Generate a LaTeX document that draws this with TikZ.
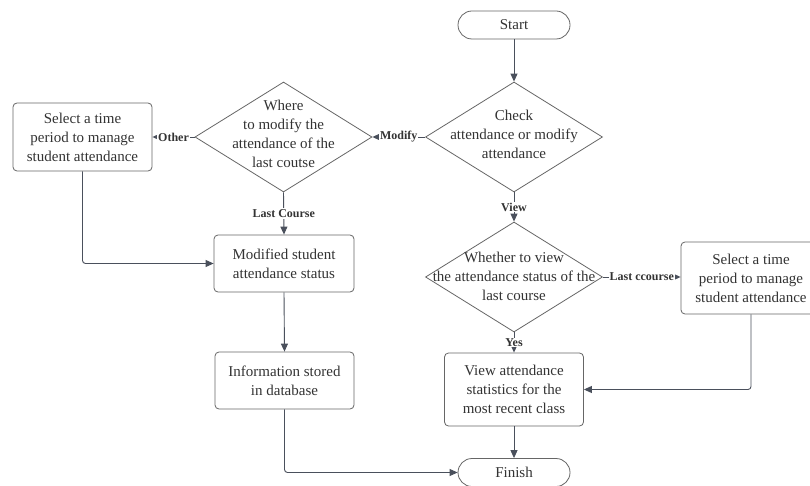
\documentclass[tikz,border=0pt]{standalone}
\usepackage{fontspec}
\setmainfont{Liberation Serif}
\usetikzlibrary{shapes.geometric,arrows.meta}
\definecolor{ink}{HTML}{333333}
\definecolor{edgecol}{HTML}{4A505C}
\definecolor{framecol}{HTML}{666666}
\tikzset{
  boxtext/.style={text=ink, font=\fontsize{15}{19}\selectfont, align=center},
  proc/.style={boxtext, draw=framecol, line width=0.8pt, rectangle, rounded corners=4pt,
               minimum width=139pt, inner sep=0pt},
  term/.style={boxtext, draw=framecol, line width=0.8pt, rectangle, rounded corners=14pt,
               minimum width=112pt, minimum height=28pt, inner sep=0pt},
  decision/.style={draw=framecol, line width=0.8pt, diamond, minimum width=177pt,
                   minimum height=110pt, inner sep=0pt},
  dtext/.style={boxtext, inner sep=0pt},
  arr/.style={draw=edgecol, line width=0.9pt, -{Triangle[length=8pt,width=7pt]}},
  elbow/.style={arr, rounded corners=3pt},
  lbl/.style={font=\bfseries\fontsize{12}{14}\selectfont, text=ink, fill=white, inner sep=1pt},
}
\begin{document}
\begin{tikzpicture}[x=1pt,y=-1pt]
\useasboundingbox (0,0) rectangle (810,486);
\fill[white] (0,0) rectangle (810,486);

% terminals
\node[term] (start) at (514,25) {Start};
\node[term] (finish) at (514,472.5) {Finish};

% decisions
\node[decision] (check) at (514,137) {};
\node[dtext] (checkT) at (514,134) {Check\\attendance or modify\\attendance};

\node[decision] (where) at (283.5,137) {};
\node[dtext] (whereT) at (283.5,133.5) {Where\\to modify the\\attendance of the\\last coutse};

\node[decision] (whether) at (514,277) {};
\node[dtext] (whetherT) at (514,276) {Whether to view\\the attendance status of the\\last course};

% process boxes
\node[proc, minimum height=68pt] (lsel) at (82.5,137) {Select a time\\period to manage\\student attendance};
\node[proc, minimum height=57pt, minimum width=140pt] (mod) at (284,263.5) {Modified student\\attendance status};
\node[proc, minimum height=57pt] (info) at (284.5,380.5) {Information stored\\in database};
\node[proc, minimum height=73pt] (view) at (514,389.5) {View attendance\\statistics for the\\most recent class};
\node[proc, minimum height=72pt, minimum width=140pt] (rsel) at (751,278) {Select a time\\period to manage\\student attendance};

% connectors
\draw[arr] (start) -- (check);
\draw[arr] (check.west) -- node[lbl] (lmodify) {Modify} (where.east);
\draw[arr] (where.west) -- node[lbl] (lother) {Other} (lsel.east);
\draw[arr] (where.south) -- node[lbl] (llast) {Last Course} (mod.north);
\draw[elbow] (lsel.south) |- (mod.west);
\draw[arr] (mod.south) -- (info.north);
\draw[elbow] (info.south) |- (finish.west);
\draw[arr] (check.south) -- node[lbl] (lview) {View} (whether.north);
\draw[arr] (whether.east) -- node[lbl] (lcc) {Last ccourse} (rsel.west |- whether.east);
\draw[arr] (whether.south) -- node[lbl] (lyes) {Yes} (view.north);
\draw[elbow] (rsel.south) |- (view.east);
\draw[arr] (view.south) -- (finish.north);
\end{tikzpicture}
\end{document}
